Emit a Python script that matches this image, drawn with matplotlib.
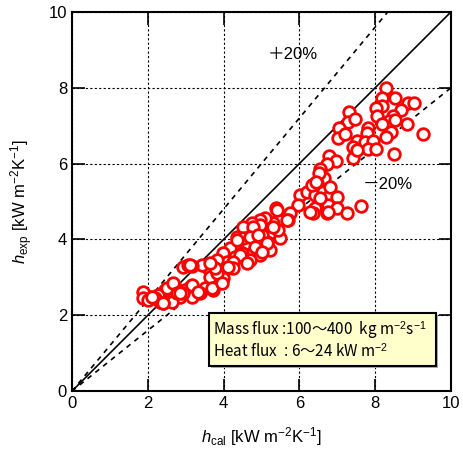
import numpy as np
import matplotlib.pyplot as plt
from matplotlib.patches import Rectangle

plt.rcParams['font.family'] = ['Liberation Sans', 'Noto Sans CJK JP']
plt.rcParams['mathtext.fontset'] = 'custom'
plt.rcParams['mathtext.rm'] = 'Liberation Sans'
plt.rcParams['mathtext.it'] = 'Liberation Sans:italic'

h_cal = [
    8.28, 8.52, 8.18, 8.18, 8.87, 9.02, 8.68, 8.02, 8.05, 8.47, 8.36, 8.52, 8.84, 8.18,
    8.42, 8.28, 9.26, 8.50, 7.31, 7.28, 7.47, 7.04, 7.02, 7.20, 7.81, 7.78, 7.52, 7.41,
    7.41, 7.73, 7.94, 7.81, 8.02, 7.52, 6.78, 6.97, 6.73, 6.54, 6.65, 6.46, 6.52,
    6.02, 6.20, 6.41, 6.62, 6.81, 6.99, 6.41, 6.36, 6.75, 6.73, 6.99, 7.26, 7.63, 5.96,
    5.75, 5.38, 5.44, 5.30, 5.09, 4.96, 5.22, 5.14, 5.49, 5.44, 5.70, 4.75, 4.51, 4.35,
    4.75, 4.62, 4.88, 4.96, 4.70, 5.22, 5.01, 4.51, 4.17, 3.98, 4.30, 4.09, 4.49, 3.83,
    4.12, 3.85, 3.98, 3.77, 3.72, 3.51, 3.59, 3.43, 3.17, 2.93, 3.64, 3.11, 2.98, 3.17,
    3.38, 2.85, 2.72, 2.59, 2.45, 2.64, 2.32, 2.27, 2.06, 1.87, 1.87, 2.00, 2.19, 2.40,
    2.93, 3.05, 6.33, 6.44, 6.54, 6.81, 6.75, 6.28, 5.67, 5.41, 5.30, 4.96, 4.78, 4.70,
    4.35, 4.91, 4.83, 5.14, 5.01, 4.43, 4.62, 4.25, 4.25, 2.11, 2.50, 2.66, 2.77, 3.17,
    3.32, 3.69, 3.83, 3.77, 3.96, 4.12, 3.11, 3.64, 2.85, 2.40,
]
h_exp = [
    8.00, 7.73, 7.73, 7.52, 7.60, 7.60, 7.41, 7.47, 7.26, 7.26, 7.12, 7.15, 7.04, 7.04,
    6.83, 6.70, 6.78, 6.25, 7.36, 7.10, 7.18, 6.94, 6.68, 6.78, 6.94, 6.81, 6.60, 6.44,
    6.15, 6.57, 6.60, 6.39, 6.39, 6.36, 6.20, 6.07, 5.99, 5.86, 5.62, 5.49, 5.75,
    5.17, 5.25, 5.17, 5.25, 5.17, 5.12, 4.83, 4.70, 4.91, 4.70, 4.83, 4.70, 4.88, 4.91,
    4.70, 4.83, 4.51, 4.43, 4.56, 4.51, 4.17, 3.93, 4.04, 4.25, 4.51, 4.43, 4.33, 4.06,
    4.06, 3.90, 3.90, 3.59, 3.46, 3.72, 4.12, 4.04, 3.77, 3.64, 3.54, 3.40, 3.64, 3.46,
    3.25, 3.19, 2.98, 2.93, 2.66, 2.72, 3.25, 3.32, 3.30, 3.27, 3.01, 2.74, 2.66, 2.48,
    2.59, 2.48, 2.74, 2.48, 2.66, 2.35, 2.35, 2.53, 2.48, 2.61, 2.45, 2.40, 2.45, 2.32,
    2.59, 3.32, 5.44, 5.51, 5.09, 5.38, 4.72, 4.72, 4.51, 4.78, 4.33, 4.38, 4.33, 4.06,
    3.98, 4.12, 3.80, 3.90, 3.67, 3.59, 3.38, 3.40, 3.25, 2.48, 2.72, 2.85, 2.59, 2.80,
    2.61, 2.72, 3.11, 3.25, 2.85, 3.27, 3.32, 3.38, 2.59, 2.32,
]

fig = plt.figure(figsize=(4.64, 4.57), dpi=100)
ax = fig.add_axes([0.155, 0.144, 0.817, 0.830])

xx = np.array([0, 10])
ax.plot(xx, xx, color='black', lw=1.2, zorder=2)
ax.plot(xx, 1.2 * xx, color='black', lw=1.2, ls=(0, (3, 3)), zorder=2)
ax.plot(xx, 0.8 * xx, color='black', lw=1.2, ls=(0, (3, 3)), zorder=2)

ax.scatter(h_cal, h_exp, s=70, facecolors='white', edgecolors='red', linewidths=2, zorder=3)

ax.set_xlim(0, 10)
ax.set_ylim(0, 10)
ax.set_xticks([0, 2, 4, 6, 8, 10])
ax.set_yticks([0, 2, 4, 6, 8, 10])
ax.grid(True, color='black', lw=0.8, ls=(0, (2, 2)))
ax.set_axisbelow(True)
ax.tick_params(direction='in', length=9, width=1.2, top=True, right=True, labelsize=12)
for s in ax.spines.values():
    s.set_linewidth(1.5)

ax.set_xlabel(r'$h_{\rm cal}$ [kW m$^{-2}$K$^{-1}$]', fontsize=12, labelpad=10)
ax.set_ylabel(r'$h_{\rm exp}$ [kW m$^{-2}$K$^{-1}$]', fontsize=12, labelpad=10)

ax.text(5.83, 8.87, '＋20%', fontsize=12, ha='center', va='center')
ax.text(8.33, 5.44, '－20%', fontsize=12, ha='center', va='center')

# legend box (mathtext needs a single font that has the wave dash)
ax.add_patch(Rectangle((0.367, 0.060), 0.599, 0.140, transform=ax.transAxes,
                       facecolor='#b0b0b0', edgecolor='none', zorder=4))
ax.add_patch(Rectangle((0.361, 0.066), 0.599, 0.140, transform=ax.transAxes,
                       facecolor='#ffffcc', edgecolor='black', lw=1.5, zorder=5))
ax.text(0.372, 0.160, 'Mass flux :100～400  kg m$^{-2}$s$^{-1}$', transform=ax.transAxes,
        fontsize=11, va='center', zorder=6, family='Noto Sans CJK JP')
ax.text(0.372, 0.103, 'Heat flux  : 6～24 kW m$^{-2}$', transform=ax.transAxes,
        fontsize=11, va='center', zorder=6, family='Noto Sans CJK JP')

fig.savefig('out.png', dpi=100)
